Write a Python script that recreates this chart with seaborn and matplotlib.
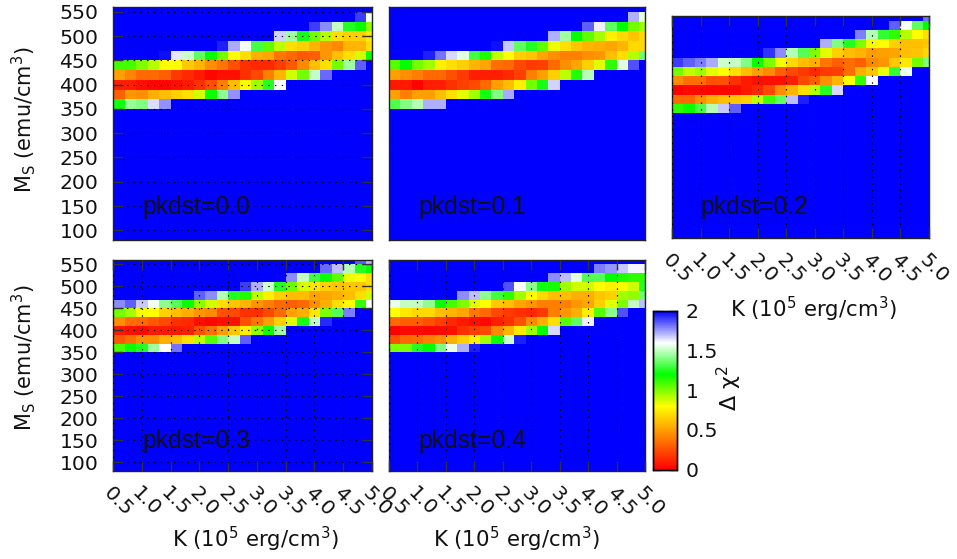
import numpy as np
import matplotlib
matplotlib.use("Agg")
import matplotlib.pyplot as plt
import seaborn as sns
from matplotlib.colors import LinearSegmentedColormap

k_values = [0.6 + 0.2 * i for i in range(23)]       # bin centres, last bin is cut by the axis
ms_values = [80 + 20 * j for j in range(25)]
k_ticks = [0.5, 1.0, 1.5, 2.0, 2.5, 3.0, 3.5, 4.0, 4.5, 5.0]
k_tick_labels = ["0.5", "1.0", "1.5", "2.0", "2.5", "3.0", "3.5", "4.0", "4.5", "5.0"]
ms_ticks = [100, 150, 200, 250, 300, 350, 400, 450, 500, 550]
cb_ticks = [0, 0.5, 1, 1.5, 2]
cb_labels = ["0", "0.5", "1", "1.5", "2"]
titles = ["pkdst=0.0", "pkdst=0.1", "pkdst=0.2", "pkdst=0.3", "pkdst=0.4"]

# rows from Ms=360 up to Ms=560, everything else is blue (2)
pk00 = [
    [1.22, 1.43, 1.4, 1.65, 1.77],
    [.3, .47, .45, .55, .6, .65, .7, .87, 1.18, 1.42, 1.77],
    [.1, .1, .05, .02, .02, .05, .08, .15, .25, .4, .6, .8, .95, 1.25, 1.6],
    [.5, .42, .33, .33, .3, .18, .13, .08, .02, .05, .05, .15, .23, .4, .57, .87, 1.02, 1.5, 1.83],
    [1.1, 1.1, 1.0, .92, .8, .8, .63, .57, .45, .37, .25, .15, .13, .13, .2, .28, .43, .6, .7, 1.02, 1.45, 1.85],
    [2] * 4 + [1.97, 1.64, 1.52, 1.35, 1.18, 1.02, .8, .7, .55, .52, .37, .33, .28, .3, .47, .6, .7, .87, 1.18],
    [2] * 9 + [1.95, 1.73, 1.58, 1.3, 1.05, .9, .7, .65, .57, .47, .43, .57, .57, .7],
    [2] * 14 + [1.67, 1.45, 1.23, 1.02, .92, .7, .65, .65, .73],
    [2] * 17 + [1.9, 1.78, 1.5, 1.25, 1.18, .97],
    [2] * 21 + [1.9, 1.58],
    [],
]
pk01 = [
    [1.32, 1.4, 1.48, 1.72, 1.72],
    [.5, .4, .5, .5, .6, .7, .85, .95, 1.23, 1.4, 1.73],
    [.08, .08, .01, .1, .1, .15, .2, .23, .33, .5, .6, .75, 1.02, 1.23, 1.67],
    [.5, .45, .4, .33, .33, .25, .18, .1, .1, .1, .13, .2, .4, .5, .65, .9, 1.15, 1.48],
    [1.07, 1.2, 1.02, .95, .75, .7, .65, .57, .52, .35, .33, .23, .18, .2, .33, .45, .52, .65, .85, 1.13, 1.55, 1.87],
    [2] * 3 + [1.95, 1.82, 1.66, 1.55, 1.3, 1.15, .9, .8, .65, .62, .52, .45, .4, .4, .45, .47, .6, .7, .92, 1.37],
    [2] * 9 + [1.97, 1.68, 1.35, 1.25, 1.05, .83, .7, .62, .57, .55, .52, .57, .68, .68],
    [2] * 14 + [1.72, 1.45, 1.2, 1.05, .94, .75, .68, .62, .68],
    [2] * 17 + [1.85, 1.62, 1.35, 1.2, 1.02, .95],
    [2] * 21 + [1.72, 1.55],
    [],
]
pk02 = [
    [1.13, 1.18, 1.32, 1.48, 1.68, 1.85],
    [.33, .33, .45, .55, .6, .62, .65, .9, 1.1, 1.35, 1.7, 1.95],
    [0, .03, .03, .02, .02, .03, .08, .13, .23, .45, .57, .7, .92, 1.25, 1.66],
    [.43, .35, .35, .25, .25, .15, .08, .05, .05, .05, .1, .23, .3, .45, .57, .8, 1.12, 1.6],
    [1.02, .9, .95, .85, .8, .7, .6, .5, .43, .3, .23, .18, .13, .18, .2, .35, .55, .62, .83, 1.28, 1.57],
    [1.9, 1.85, 1.8, 1.73, 1.52, 1.5, 1.4, 1.18, 1.0, .82, .68, .6, .55, .37, .3, .35, .3, .43, .47, .63, .73, 1.02, 1.4],
    [2] * 8 + [1.92, 1.78, 1.48, 1.33, 1.0, .85, .65, .6, .57, .5, .5, .52, .6, .62, .68],
    [2] * 13 + [1.72, 1.4, 1.25, 1.0, .82, .8, .65, .6, .6, .63],
    [2] * 16 + [1.8, 1.48, 1.28, 1.13, .92, .8, .7],
    [2] * 19 + [1.85, 1.58, 1.35, 1.2],
    [2] * 22 + [1.82],
]
pk03 = [
    [1.08, 1.18, 1.25, 1.45, 1.6, 1.82],
    [.28, .35, .45, .45, .55, .6, .7, .9, 1.07, 1.4, 1.5, 1.85],
    [.08, .05, .03, .08, .08, .08, .1, .25, .35, .5, .62, .75, .97, 1.18, 1.45],
    [.45, .35, .33, .28, .23, .15, .13, .05, .02, .05, .05, .25, .37, .5, .65, .85, 1.23, 1.5, 1.93],
    [1.02, .94, .82, .8, .65, .6, .55, .47, .43, .25, .23, .15, .15, .23, .33, .5, .55, .73, 1.0, 1.33, 1.8],
    [1.78, 1.85, 1.68, 1.58, 1.42, 1.33, 1.18, .97, .87, .7, .62, .57, .47, .4, .33, .3, .33, .45, .55, .7, .8, 1.12, 1.6],
    [2] * 7 + [1.85, 1.78, 1.48, 1.25, 1.15, .9, .75, .65, .6, .6, .52, .52, .55, .6, .7, .87],
    [2] * 11 + [1.9, 1.72, 1.52, 1.25, 1.03, .86, .72, .65, .62, .62, .62, .7],
    [2] * 15 + [1.78, 1.5, 1.3, 1.18, 1.05, .83, .8, .7],
    [2] * 18 + [1.83, 1.7, 1.48, 1.25, 1.2],
    [2] * 21 + [1.85, 1.7],
]
pk04 = [
    [1.0, 1.0, 1.25, 1.2, 1.4, 1.57, 1.72, 1.95],
    [.25, .33, .35, .4, .45, .55, .65, .75, .95, 1.18, 1.52, 1.95],
    [0, .03, .03, .02, .03, .05, .15, .2, .23, .43, .57, .73, .95, 1.2, 1.66],
    [.33, .3, .3, .25, .2, .13, .08, .05, .03, .1, .15, .25, .43, .55, .7, 1.07, 1.35, 1.62],
    [.8, .73, .68, .68, .6, .57, .52, .37, .33, .23, .18, .15, .13, .18, .4, .47, .55, .75, 1.07, 1.42, 1.87],
    [1.57, 1.5, 1.5, 1.42, 1.18, 1.1, 1.0, .85, .8, .63, .6, .52, .47, .4, .4, .4, .47, .52, .65, .85, 1.0, 1.5, 1.7],
    [2] * 6 + [1.78, 1.7, 1.42, 1.3, 1.13, .95, .8, .68, .6, .6, .55, .55, .62, .65, .95, .97, 1.37],
    [2] * 10 + [1.87, 1.6, 1.42, 1.22, 1.17, .95, .88, .87, .8, .75, .82, .88, 1.25],
    [2] * 14 + [1.78, 1.7, 1.55, 1.33, 1.33, 1.2, 1.15, 1.13, 1.13],
    [2] * 18 + [1.8, 1.76, 1.68, 1.61, 1.61],
    [],
]

W, H = 957, 559


def px_axes(left, top, right, bottom):
    return fig.add_axes([left / W, 1 - bottom / H, (right - left) / W, (bottom - top) / H])


def build_grid(rows):
    # all bins below Ms=360 are at the top of the colour range
    grid = np.full((len(ms_values), len(k_values)), 2.0)
    for r, vals in enumerate(rows):
        grid[14 + r, :len(vals)] = vals
    return grid


sns.set_style("ticks")
plt.rcParams["font.family"] = ["DejaVu Sans"]
plt.rcParams["mathtext.default"] = "regular"

cmap = LinearSegmentedColormap.from_list(
    "chi", [(0, "#ff0000"), (0.4, "#ffff00"), (0.6, "#00ff00"), (0.8, "#ffffff"), (1, "#0000ff")], N=256
)

fig = plt.figure(figsize=(W / 100, H / 100), dpi=100)

panels = [
    (pk00, (113, 7, 372, 240), "y", False, True),
    (pk01, (389, 7, 645, 240), None, False, False),
    (pk02, (672, 16, 929, 238), "x", True, False),
    (pk03, (113, 260, 372, 471), "both", True, True),
    (pk04, (389, 260, 645, 471), "x", True, False),
]
text_pos = [(142, 207), (418, 207), (700, 207), (142, 441), (418, 441)]
cax = px_axes(652.5, 311, 677, 469.5)

for i, (rows, box, grid_axis, show_x, show_y) in enumerate(panels):
    ax = px_axes(*box)
    sns.heatmap(build_grid(rows), ax=ax, cmap=cmap, vmin=0, vmax=2,
                xticklabels=False, yticklabels=False,
                cbar=i == 4, cbar_ax=cax if i == 4 else None,
                cbar_kws={"ticks": cb_ticks})
    # heatmap cells sit on integer edges, convert the real axis values
    ax.set_xlim((0.5 - 0.5) / 0.2, (5.0 - 0.5) / 0.2)
    ax.set_ylim((80 - 70) / 20, (560 - 70) / 20)
    ax.set_xticks([(k - 0.5) / 0.2 for k in k_ticks])
    ax.set_yticks([(m - 70) / 20 for m in ms_ticks])
    ax.set_xticklabels(k_tick_labels if show_x else [], rotation=-45, ha="left", va="top",
                       rotation_mode="anchor", fontsize=14.7, color="#111111")
    ax.set_yticklabels([str(m) for m in ms_ticks] if show_y else [], rotation=0, fontsize=14.7, color="#111111")
    if show_x:
        ax.tick_params(axis="x", direction="in", top=True, bottom=True, length=7, width=1, pad=9,
                       color="#333333")
    else:
        ax.tick_params(axis="x", length=0)
    if show_y:
        ax.tick_params(axis="y", direction="in", left=True, right=True, length=7, width=1, pad=10.5,
                       color="#333333")
    else:
        ax.tick_params(axis="y", length=0)
    if grid_axis:
        ax.grid(True, axis=grid_axis, color="black", linestyle=(0, (1.2, 4.5)), linewidth=0.85)
        ax.set_axisbelow(False)
    for s in ax.spines.values():
        s.set_visible(True)
        s.set_color("#222222")
        s.set_linewidth(1)
    fig.text(text_pos[i][0] / W, 1 - text_pos[i][1] / H, titles[i], family="Liberation Sans",
             fontsize=17.8, va="center", ha="left", color="#111111")

cax.set_yticks(cb_ticks)
cax.set_yticklabels(cb_labels, fontsize=14.7, color="#111111")
cax.tick_params(axis="y", direction="in", left=True, right=True, length=6, width=1, pad=6, color="#555555")
for s in cax.spines.values():
    s.set_visible(True)
    s.set_color("black")
    s.set_linewidth(1)

ms_label = r"M$_{S}$ (emu/cm$^{3}$)"
k_label = r"K (10$^{5}$ erg/cm$^{3}$)"
fig.text(24 / W, 1 - 120 / H, ms_label, rotation=90, ha="center", va="center", fontsize=15, color="#111111")
fig.text(24 / W, 1 - 358 / H, ms_label, rotation=90, ha="center", va="center", fontsize=15, color="#111111")
fig.text(255 / W, 1 - 539 / H, k_label, ha="center", va="center", fontsize=15.3, color="#111111")
fig.text(516 / W, 1 - 539 / H, k_label, ha="center", va="center", fontsize=15.3, color="#111111")
fig.text(813.5 / W, 1 - 309 / H, k_label, ha="center", va="center", fontsize=15.3, color="#111111")
fig.text(729 / W, 1 - 388 / H, r"$\Delta\ \chi^{2}$", rotation=90, ha="center", va="center", fontsize=16, color="#111111")

fig.savefig("out.png", dpi=100)
